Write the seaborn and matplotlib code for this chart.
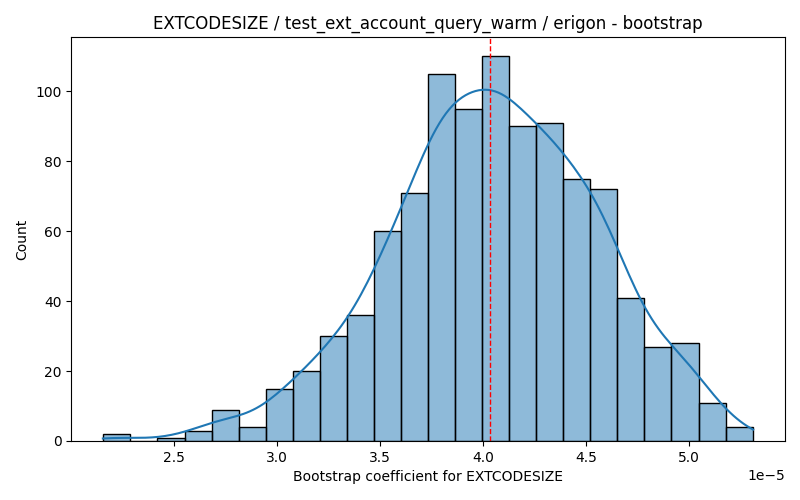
import numpy as np
import pandas as pd
import matplotlib
matplotlib.use("Agg")
import matplotlib.pyplot as plt
import seaborn as sns

# Histogram bin edges (in units of 1e-5) and counts
bin_start = 2.160
bin_end = 5.307
n_bins = 24
counts = [2, 0, 1, 3, 9, 4, 15, 20, 30, 36, 60, 71,
          105, 95, 110, 90, 91, 75, 72, 41, 27, 28, 11, 4]
mean_value = 4.033  # red dashed line (1e-5 units)
x_limits = (2.004, 5.463)

edges = np.linspace(bin_start, bin_end, n_bins + 1) * 1e-5
centers = (edges[:-1] + edges[1:]) / 2
df = pd.DataFrame({"coef": centers, "count": counts})

fig, ax = plt.subplots(figsize=(8, 5), dpi=100)
sns.histplot(data=df, x="coef", weights="count", bins=n_bins,
             binrange=(edges[0], edges[-1]), kde=True,
             kde_kws={"bw_adjust": 0.42, "cut": 0.33}, ax=ax)
ax.axvline(mean_value * 1e-5, color="red", linestyle="--", linewidth=1)
ax.set_xlim(x_limits[0] * 1e-5, x_limits[1] * 1e-5)
ax.set_title("EXTCODESIZE / test_ext_account_query_warm / erigon - bootstrap")
ax.set_xlabel("Bootstrap coefficient for EXTCODESIZE")
ax.set_ylabel("Count")
fig.subplots_adjust(left=0.089, right=0.981, top=0.926, bottom=0.118)
fig.savefig("out.png", dpi=100)
